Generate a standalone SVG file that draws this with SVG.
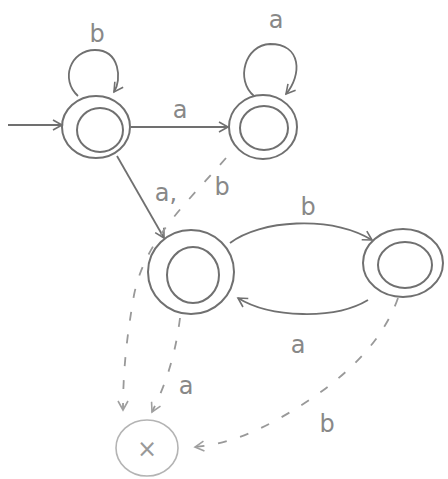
<svg xmlns="http://www.w3.org/2000/svg" width="448" height="479" viewBox="0 0 448 479">
<defs>
<marker id="ah" viewBox="0 0 12 12" refX="10" refY="6" markerWidth="12" markerHeight="12" markerUnits="userSpaceOnUse" orient="auto">
<path d="M1,1 L10,6 L1,11" fill="none" stroke="#707070" stroke-width="1.6"/>
</marker>
<marker id="ahl" viewBox="0 0 12 12" refX="10" refY="6" markerWidth="12" markerHeight="12" markerUnits="userSpaceOnUse" orient="auto">
<path d="M1,1 L10,6 L1,11" fill="none" stroke="#a0a0a0" stroke-width="1.6"/>
</marker>
</defs>
<style>
.st{fill:none;stroke:#707070;stroke-width:2}
.dead{fill:none;stroke:#b4b4b4;stroke-width:1.6}
.e{fill:none;stroke:#707070;stroke-width:1.8}
.d{fill:none;stroke:#999;stroke-width:1.8;stroke-dasharray:9 14}
.lbl{font-family:"DejaVu Sans",sans-serif;font-size:24px;fill:#888}
</style>
<rect width="448" height="479" fill="#fff"/>
<g id="edges">
<path class="e" d="M8,125 L62,125" marker-end="url(#ah)"/>
<path class="e" d="M78,96 C60,80 70,50 95,50 C120,50 122,80 114,92" marker-end="url(#ah)"/>
<path class="e" d="M131,127 L228,127" marker-end="url(#ah)"/>
<path class="e" d="M254,96 C235,80 245,45 270,44 C302,44 302,75 286,94" marker-end="url(#ah)"/>
<path class="e" d="M117,156 L164,238" marker-end="url(#ah)"/>
<path class="e" d="M230,243 C260,220 330,215 372,240" marker-end="url(#ah)"/>
<path class="e" d="M368,300 C335,320 270,318 238,298" marker-end="url(#ah)"/>
<path class="d" d="M226,158 C185,205 145,240 134,295 C127,335 123,370 123,410" marker-end="url(#ahl)"/>
<path class="d" d="M180,318 C176,350 168,380 152,412" marker-end="url(#ahl)"/>
<path class="d" d="M398,298 C380,350 330,390 280,418 C250,435 225,444 195,447" marker-end="url(#ahl)"/>
</g>
<g id="q0">
<ellipse class="st" cx="96" cy="127" rx="34" ry="31"/>
<ellipse class="st" cx="100" cy="130" rx="23" ry="22"/>
</g>
<g id="q1">
<ellipse class="st" cx="263" cy="127" rx="34" ry="32"/>
<ellipse class="st" cx="264" cy="128" rx="24" ry="22"/>
</g>
<g id="q2">
<ellipse class="st" cx="191" cy="272" rx="43" ry="42"/>
<ellipse class="st" cx="193" cy="275" rx="26" ry="28"/>
</g>
<g id="q3">
<ellipse class="st" cx="403" cy="263" rx="40" ry="34"/>
<ellipse class="st" cx="405" cy="265" rx="27" ry="23"/>
</g>
<g id="dead">
<ellipse class="dead" cx="147" cy="448" rx="31" ry="28"/>
<text x="147" y="457" text-anchor="middle" font-family="DejaVu Sans, sans-serif" font-size="24" fill="#999">×</text>
</g>
<g id="labels">
<text class="lbl" x="97" y="42" text-anchor="middle">b</text>
<text class="lbl" x="276" y="28" text-anchor="middle">a</text>
<text class="lbl" x="180" y="118" text-anchor="middle">a</text>
<text class="lbl" x="166" y="201" text-anchor="middle">a,</text>
<text class="lbl" x="222" y="195" text-anchor="middle" font-size="20">b</text>
<text class="lbl" x="308" y="215" text-anchor="middle" font-size="28">b</text>
<text class="lbl" x="298" y="353" text-anchor="middle">a</text>
<text class="lbl" x="186" y="394" text-anchor="middle" font-size="20">a</text>
<text class="lbl" x="327" y="432" text-anchor="middle" font-size="26">b</text>
</g>
</svg>
